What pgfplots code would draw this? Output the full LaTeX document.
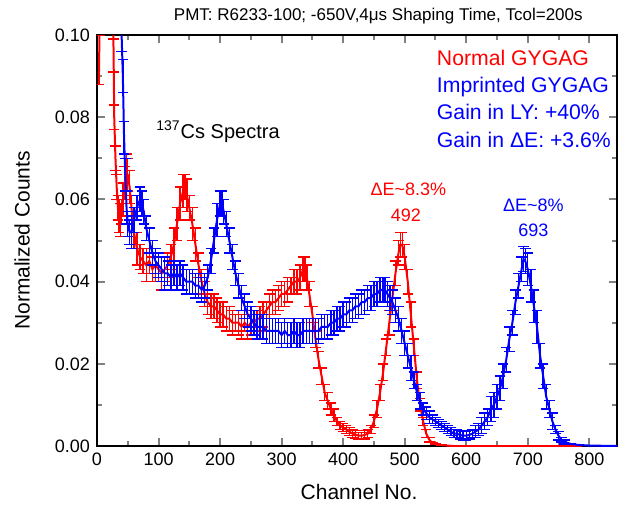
\documentclass[border=0pt]{standalone}
\usepackage{fontspec}
\setmainfont{Liberation Sans}
\usepackage{pgfplots}
\usepackage{pgfplotstable}
\pgfplotsset{compat=1.18}

% Normal GYGAG: channel, counts, error
\pgfplotstableread{
x y e
3 0.088 0
4 0.100 0
6 0.140 0
15 0.200 0
24 0.130 0
27 0.095 0.004
28 0.080 0.003
30 0.070 0.003
32 0.063 0.003
34 0.058 0.003
36 0.056 0.004
38 0.055 0.004
40 0.057 0.003
42 0.060 0.004
45 0.064 0.004
48 0.066 0.005
50 0.066 0.004
53 0.063 0.004
56 0.058 0.003
60 0.052 0.004
65 0.048 0.004
70 0.046 0.003
75 0.045 0.003
80 0.044 0.004
85 0.045 0.003
90 0.043 0.003
95 0.044 0.004
100 0.043 0.003
105 0.042 0.004
110 0.043 0.003
115 0.044 0.003
120 0.046 0.003
125 0.049 0.004
130 0.054 0.004
135 0.059 0.004
140 0.062 0.004
143 0.063 0.003
146 0.061 0.004
150 0.058 0.003
155 0.054 0.004
160 0.049 0.004
165 0.044 0.003
170 0.040 0.003
175 0.037 0.003
180 0.035 0.003
185 0.034 0.003
190 0.034 0.003
195 0.033 0.003
200 0.032 0.003
205 0.032 0.003
210 0.031 0.003
215 0.031 0.003
220 0.030 0.003
225 0.030 0.002
230 0.030 0.003
235 0.029 0.003
240 0.030 0.002
245 0.029 0.003
250 0.030 0.003
255 0.030 0.002
260 0.031 0.002
265 0.031 0.003
270 0.032 0.003
275 0.033 0.002
280 0.034 0.003
285 0.035 0.003
290 0.035 0.003
295 0.036 0.003
300 0.037 0.003
305 0.037 0.003
310 0.038 0.003
315 0.039 0.002
320 0.040 0.003
325 0.040 0.003
330 0.041 0.003
335 0.043 0.003
338 0.043 0.003
341 0.041 0.003
345 0.037 0.003
350 0.032 0.002
355 0.026 0.002
360 0.021 0.002
365 0.017 0.002
370 0.013 0.002
375 0.011 0.002
380 0.009 0.0015
385 0.0075 0.0015
390 0.006 0.001
395 0.005 0.001
400 0.0045 0.001
405 0.004 0.001
410 0.0035 0.001
415 0.003 0.001
420 0.0028 0.001
425 0.0025 0.0008
430 0.0025 0.0008
435 0.0027 0.001
440 0.003 0.001
445 0.004 0.001
450 0.006 0.0015
455 0.009 0.002
460 0.013 0.002
465 0.018 0.002
470 0.024 0.002
475 0.030 0.003
480 0.036 0.003
485 0.042 0.003
490 0.047 0.003
493 0.049 0.003
496 0.049 0.003
500 0.046 0.003
505 0.040 0.003
510 0.032 0.003
515 0.024 0.002
520 0.016 0.002
525 0.010 0.0015
530 0.006 0.001
535 0.003 0.001
540 0.0015 0.0005
545 0.0008 0
550 0.0005 0
560 0.0002 0
580 0 0
780 0 0
}\normaltab

% Imprinted GYGAG: channel, counts, error
\pgfplotstableread{
x y e
38 0.140 0
40 0.100 0.004
42 0.090 0.004
44 0.075 0.004
46 0.066 0.004
48 0.058 0.004
50 0.054 0.003
53 0.052 0.003
56 0.052 0.004
60 0.055 0.003
65 0.058 0.003
70 0.060 0.003
73 0.059 0.003
76 0.057 0.003
80 0.053 0.003
85 0.050 0.003
90 0.047 0.003
95 0.045 0.003
100 0.044 0.003
105 0.043 0.003
110 0.042 0.004
115 0.042 0.003
120 0.041 0.003
125 0.042 0.003
130 0.041 0.003
135 0.042 0.003
140 0.041 0.003
145 0.040 0.003
150 0.040 0.003
155 0.040 0.003
160 0.039 0.003
165 0.039 0.003
170 0.038 0.003
175 0.039 0.003
180 0.041 0.003
185 0.045 0.003
190 0.050 0.003
195 0.055 0.004
200 0.059 0.003
203 0.059 0.003
206 0.057 0.003
210 0.054 0.003
215 0.050 0.003
220 0.046 0.003
225 0.042 0.003
230 0.039 0.003
235 0.036 0.003
240 0.034 0.003
245 0.032 0.003
250 0.031 0.003
255 0.030 0.003
260 0.029 0.003
265 0.029 0.003
270 0.029 0.003
275 0.028 0.003
280 0.028 0.003
285 0.028 0.003
290 0.028 0.003
295 0.028 0.003
300 0.027 0.003
305 0.028 0.003
310 0.027 0.003
315 0.027 0.003
320 0.028 0.003
325 0.027 0.003
330 0.027 0.003
335 0.028 0.003
340 0.028 0.003
345 0.028 0.003
350 0.028 0.003
355 0.028 0.003
360 0.028 0.003
365 0.029 0.003
370 0.029 0.003
375 0.029 0.003
380 0.030 0.003
385 0.030 0.003
390 0.031 0.003
395 0.031 0.003
400 0.032 0.003
405 0.032 0.003
410 0.033 0.003
415 0.033 0.003
420 0.034 0.003
425 0.034 0.003
430 0.035 0.003
435 0.035 0.003
440 0.036 0.003
445 0.036 0.003
450 0.037 0.003
455 0.037 0.003
460 0.038 0.003
465 0.038 0.003
468 0.038 0.003
472 0.037 0.003
476 0.036 0.003
480 0.035 0.003
485 0.033 0.003
490 0.031 0.003
495 0.028 0.003
500 0.025 0.003
505 0.022 0.003
510 0.019 0.003
515 0.016 0.002
520 0.013 0.002
525 0.011 0.002
530 0.009 0.0015
535 0.008 0.0015
540 0.007 0.0015
545 0.0065 0.001
550 0.006 0.001
555 0.0055 0.001
560 0.005 0.001
565 0.0045 0.001
570 0.004 0.001
575 0.0035 0.001
580 0.003 0.001
585 0.003 0.001
590 0.0027 0.001
595 0.0025 0.001
600 0.0025 0.001
605 0.0027 0.001
610 0.003 0.001
615 0.0035 0.0015
620 0.004 0.0015
625 0.005 0.002
630 0.006 0.002
635 0.007 0.002
640 0.009 0.003
645 0.010 0.003
650 0.012 0.003
655 0.014 0.003
660 0.017 0.003
665 0.021 0.003
670 0.026 0.003
675 0.030 0.003
680 0.035 0.003
685 0.039 0.003
690 0.043 0.003
693 0.0455 0.003
696 0.045 0.003
700 0.043 0.004
705 0.039 0.004
710 0.034 0.004
715 0.029 0.004
720 0.022 0.003
725 0.017 0.003
730 0.012 0.003
735 0.009 0.002
740 0.006 0.002
745 0.004 0.001
750 0.0025 0.001
755 0.0015 0.0005
760 0.001 0.0005
770 0.0005 0
780 0.0003 0
800 0.0001 0
850 0 0
}\imprintedtab

% error bar with a horizontal cap, drawn as a plain path in the bar colour
\pgfplotsset{
  capped bars/.style={
    error bars/.cd, y dir=both, y explicit, error mark=none,
    error bar style={draw=#1, line width=0.7pt},
    draw error bar/.code 2 args={%
      \draw[draw=#1, line width=0.7pt] ##1 -- ##2 ++(-2.6pt,0pt) -- ++(5.2pt,0pt);}
  }
}

\begin{document}
\begin{tikzpicture}
\begin{axis}[
  name=ax,
  scale only axis,
  width=260pt, height=205.5pt,
  xmin=0, xmax=845, ymin=0, ymax=0.10,
  xtick={0,100,...,800},
  ytick={0,0.02,0.04,0.06,0.08,0.10},
  minor x tick num=1, minor y tick num=1,
  xtick pos=both, ytick pos=both,
  xticklabel pos=lower, yticklabel pos=left,
  tick align=inside,
  major tick length=4pt, minor tick length=2.5pt,
  tick style={line width=1pt},
  axis line style={line width=1pt},
  scaled y ticks=false,
  /pgf/number format/assume math mode=true,
  yticklabel style={/pgf/number format/.cd, fixed, fixed zerofill, precision=2},
  tick label style={font=\fontsize{9}{10}\selectfont},
  label style={font=\fontsize{10.5}{12}\selectfont},
  xlabel={Channel No.},
  ylabel={Normalized Counts},
  xlabel style={at={(axis description cs:0.504,-0.112)}, anchor=center},
  ylabel style={at={(axis description cs:-0.144,0.5)}, anchor=center},
  clip mode=individual,
]
\addplot[red, line width=1pt, mark=none, capped bars=red]
  table[x=x, y=y, y error=e] {\normaltab};
\addplot[blue, line width=1pt, mark=none, capped bars=blue]
  table[x=x, y=y, y error=e] {\imprintedtab};

\node[anchor=base, font=\fontsize{8.5}{10}\selectfont] at (rel axis cs:0.541,1) [yshift=7.5pt]
  {PMT: R6233-100; -650V,4μs Shaping Time, Tcol=200s};
\node[anchor=base west, font=\fontsize{10}{12}\selectfont] at (axis cs:85,0.0749)
  {\textsuperscript{137}Cs Spectra};
\node[anchor=base west, red, font=\fontsize{10.6}{13}\selectfont] at (axis cs:541,0.0927) {Normal GYGAG};
\node[anchor=base west, blue, font=\fontsize{10.6}{13}\selectfont] at (axis cs:541,0.0861) {Imprinted GYGAG};
\node[anchor=base west, blue, font=\fontsize{10.6}{13}\selectfont] at (axis cs:541,0.0794) {Gain in LY: +40\%};
\node[anchor=base west, blue, font=\fontsize{10.6}{13}\selectfont] at (axis cs:541,0.0727) {Gain in ΔE: +3.6\%};
\node[anchor=base, red, font=\fontsize{9}{11}\selectfont] at (axis cs:506,0.0609) {ΔE\textasciitilde 8.3\%};
\node[anchor=base, red, font=\fontsize{9}{11}\selectfont] at (axis cs:502,0.0546) {492};
\node[anchor=base, blue, font=\fontsize{9}{11}\selectfont] at (axis cs:709,0.0571) {ΔE\textasciitilde 8\%};
\node[anchor=base, blue, font=\fontsize{9}{11}\selectfont] at (axis cs:709,0.0510) {693};
\end{axis}
\path (ax.south west) ++(-48.5pt,-31.5pt) coordinate (bl);
\path (ax.north east) ++(4.5pt,17.5pt) coordinate (tr);
\pgfresetboundingbox
\useasboundingbox (bl) rectangle (tr);
\end{tikzpicture}
\end{document}
